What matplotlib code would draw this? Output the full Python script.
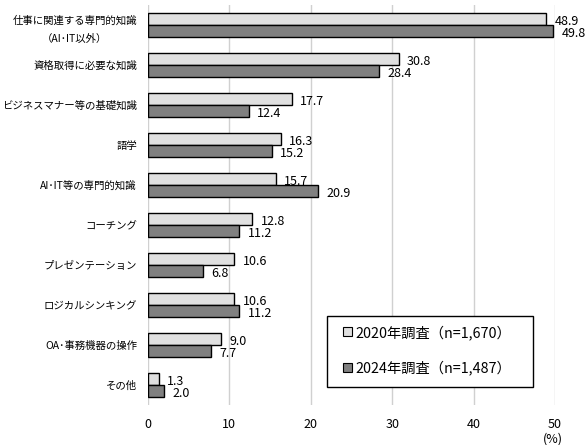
import matplotlib
matplotlib.use("Agg")
import matplotlib.pyplot as plt
import numpy as np
from matplotlib.patches import Patch, Rectangle

plt.rcParams['font.family'] = ['Noto Sans CJK JP', 'DejaVu Sans']

categories = ["仕事に関連する専門的知識\n（AI･IT以外）", "資格取得に必要な知識", "ビジネスマナー等の基礎知識",
              "語学", "AI･IT等の専門的知識", "コーチング", "プレゼンテーション",
              "ロジカルシンキング", "OA･事務機器の操作", "その他"]
v2020 = [48.9, 30.8, 17.7, 16.3, 15.7, 12.8, 10.6, 10.6, 9.0, 1.3]
v2024 = [49.8, 28.4, 12.4, 15.2, 20.9, 11.2, 6.8, 11.2, 7.7, 2.0]
series_labels = ["2020年調査（n=1,670）", "2024年調査（n=1,487）"]
xticks = [0, 10, 20, 30, 40, 50]

c20 = "#e0e0e0"
c24 = "#808080"

fig = plt.figure(figsize=(5.88, 4.45), dpi=100)
ax = fig.add_axes([148/588, 1-405/445, (555-148)/588, 400/445])

y = np.arange(len(categories))
h = 0.29
ax.barh(y - h/2, v2020, height=h, color=c20, edgecolor="black", linewidth=1.0, zorder=3)
ax.barh(y + h/2, v2024, height=h, color=c24, edgecolor="black", linewidth=1.0, zorder=3)
for yi, a, b in zip(y, v2020, v2024):
    ax.annotate(f"{a:.1f}", (a, yi - h/2), xytext=(6, -2), textcoords="offset points",
                va="center", ha="left", fontsize=9)
    ax.annotate(f"{b:.1f}", (b, yi + h/2), xytext=(6, -2), textcoords="offset points",
                va="center", ha="left", fontsize=9)

ax.set_ylim(len(categories) - 0.5, -0.5)
ax.set_xlim(0, 50)
ax.set_xticks(xticks)
ax.set_xticklabels([str(t) for t in xticks], fontsize=9)
ax.set_yticks(y)
ax.set_yticklabels(categories, fontsize=7.5, linespacing=1.9)
for t in ax.get_yticklabels():
    t.set_multialignment("center")
ax.tick_params(axis="both", length=0)
ax.tick_params(axis="y", pad=8)
ax.tick_params(axis="x", pad=9)
for s in ax.spines.values():
    s.set_visible(False)
ax.grid(axis="x", color="#d0d0d0", linewidth=1.0, zorder=0)
ax.set_axisbelow(True)

fig.text(553/588, 1-439/445, "(%)", ha="center", va="center", fontsize=9)

# legend frame
fig.patches.append(Rectangle((327/588, 1-387/445), (533-327)/588, (387-316)/445,
                             transform=fig.transFigure, facecolor="white",
                             edgecolor="black", linewidth=1.0, zorder=5))
handles = [Patch(facecolor=c20, edgecolor="black", linewidth=0.8),
           Patch(facecolor=c24, edgecolor="black", linewidth=0.8)]
leg = fig.legend(handles, series_labels, loc="upper left",
                 bbox_to_anchor=(343/588, 1-325/445), fontsize=10.3,
                 frameon=False,
                 handlelength=0.6, handleheight=0.6, handletextpad=0.3,
                 labelspacing=1.45, borderpad=0, borderaxespad=0)
leg.set_zorder(6)

fig.savefig("out.png", dpi=100)
